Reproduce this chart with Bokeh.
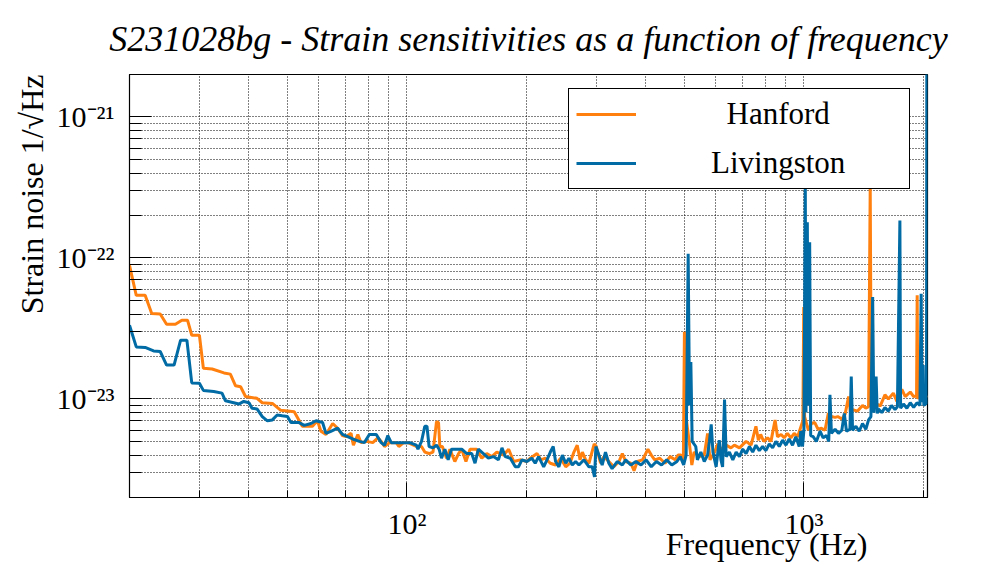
import numpy as np
from bokeh.plotting import figure
from bokeh.models import FixedTicker, CustomJSTickFormatter, Legend, LegendItem, Title
from bokeh.embed import file_html
from bokeh.resources import INLINE

# ---------------- data (ASD values given in units of 1e-23 / sqrt(Hz)) ----------------
ASD_UNIT = 1e-23

hanford_freq = [
    20.0, 20.8, 21.9, 22.75, 23.9, 24.8, 26.1, 27.1, 28.0, 28.7, 30.0, 30.7, 32.3, 34.6, 35.9,
    37.0, 38.1, 39.2, 41.9, 43.2, 45.8, 48.1, 52.0, 54.5, 57.8, 59.5, 60.7, 62.5, 65.0, 66.9,
    68.8, 70.2, 72.3, 73.3, 75.2, 76.6, 79.2, 82.0, 84.5, 86.1, 87.8, 90.4, 94.0, 95.4, 98.1,
    100.6, 105.6, 108.8, 110.9, 113.7, 116.3, 118.7, 120.1, 121.0, 122.8, 125.8, 128.3, 132.0,
    134.9, 137.4, 140.8, 144.2, 149.8, 154.3, 158.8, 163.5, 168.4, 175.2, 180.4, 185.7, 192.9,
    200.5, 204.5, 212.6, 217.4, 223.1, 229.7, 236.8, 243.8, 251.2, 257.4, 263.4, 268.5, 272.9,
    276.6, 281.9, 287.4, 296.3, 299.9, 307.4, 313.3, 322.5, 332.1, 342.1, 348.8, 355.6, 366.3,
    373.3, 380.4, 392.1, 404.6, 412.6, 420.8, 433.6, 446.7, 460.1, 474.0, 482.0, 490.0, 497.0,
    500.0, 503.0, 514.0, 522.0, 529.0, 545.0, 561.0, 572.0, 580.0, 596.0, 607.0, 618.0, 637.0,
    655.0, 668.0, 688.0, 715.0, 736.0, 757.0, 768.0, 778.0, 792.0, 810.0, 826.0, 846.0, 858.0,
    876.0, 892.0, 909.0, 927.0, 945.0, 964.0, 980.0, 994.0, 999.0, 1004.0, 1026.0, 1045.0,
    1065.0, 1085.0, 1107.0, 1130.0, 1152.0, 1173.0, 1198.0, 1217.0, 1246.0, 1270.0, 1296.0,
    1310.0, 1326.0, 1365.0, 1405.0, 1432.0, 1455.0, 1469.0, 1478.0, 1500.0, 1527.0, 1556.0,
    1600.0, 1632.0, 1680.0, 1715.0, 1765.0, 1800.0, 1853.0, 1890.0, 1922.0, 1929.0, 1936.0,
    1962.0, 2016.0, 2045.0,
]
hanford_asd = [
    8.85, 5.43, 5.43, 4.03, 4.00, 3.39, 3.39, 3.62, 3.62, 2.83, 2.83, 1.65, 1.63, 1.53, 1.50,
    1.24, 1.22, 1.04, 1.01, 0.94, 0.93, 0.83, 0.81, 0.64, 0.64, 0.70, 0.59, 0.56, 0.67, 0.62,
    0.55, 0.54, 0.57, 0.47, 0.56, 0.49, 0.50, 0.49, 0.53, 0.50, 0.46, 0.49, 0.49, 0.46, 0.49,
    0.49, 0.46, 0.46, 0.42, 0.41, 0.42, 0.69, 0.68, 0.46, 0.46, 0.38, 0.44, 0.36,
    0.41, 0.44, 0.36, 0.44, 0.44, 0.38, 0.41, 0.39, 0.42, 0.40, 0.44, 0.36, 0.37,
    0.36, 0.38, 0.41, 0.37, 0.38, 0.35, 0.34, 0.38, 0.33, 0.35, 0.42, 0.47, 0.37,
    0.42, 0.37, 0.35, 0.48, 0.46, 0.35, 0.39, 0.36, 0.33, 0.36, 0.41, 0.36, 0.35,
    0.31, 0.36, 0.37, 0.44, 0.40, 0.37, 0.38, 0.35, 0.39, 0.37, 0.40, 0.40, 0.37,
    2.99, 0.80, 0.50, 0.34, 0.42, 0.39, 0.40, 0.57, 0.37, 0.42, 0.48, 0.44, 0.47,
    0.45, 0.47, 0.45, 0.50, 0.47, 0.64, 0.51, 0.56, 0.50, 0.53, 0.50, 0.71, 0.54,
    0.56, 0.53, 0.57, 0.53, 0.57, 0.54, 0.62, 0.70, 4.49, 0.75, 0.60, 0.67,
    0.68, 0.61, 0.62, 0.60, 0.79, 0.75, 0.74, 0.75, 0.72, 0.78, 1.04,
    0.80, 0.84, 0.82, 0.90, 0.86, 0.88, 32.0, 0.95, 0.88, 0.92, 0.89,
    1.07, 1.00, 1.10, 0.96, 1.17, 1.04, 1.12, 1.04, 1.05, 5.43, 1.00,
    1.09, 1.07, 1.02,
]

livingston_freq = [
    20.0, 20.8, 21.9, 23.0, 23.9, 24.8, 25.9, 26.9, 27.9, 28.7, 30.0, 30.7, 32.6, 34.2, 34.9,
    36.6, 37.7, 38.8, 40.0, 40.7, 41.9, 43.2, 44.5, 45.8, 47.1, 48.5, 50.0, 51.0, 53.5, 55.1,
    57.3, 59.0, 61.3, 62.5, 64.3, 66.9, 68.8, 73.0, 75.9, 78.1, 80.4, 83.7, 86.1, 87.8, 89.5,
    91.3, 94.9, 98.7, 101.6, 105.6, 106.6, 108.8, 110.9, 112.3, 113.7, 116.3, 118.7, 120.5,
    122.2, 124.6, 127.0, 129.5, 133.4, 137.4, 141.4, 145.6, 148.4, 151.3, 155.8, 160.4, 165.1,
    170.0, 173.5, 176.9, 182.1, 187.5, 191.0, 194.8, 200.5, 206.3, 210.4, 214.6, 221.0, 225.3,
    229.7, 233.6, 236.8, 241.4, 246.3, 251.2, 255.9, 260.9, 266.0, 271.2, 279.2, 287.4, 292.9,
    296.8, 299.2, 304.4, 310.3, 316.3, 322.5, 328.7, 338.6, 348.8, 355.6, 366.3, 377.4, 388.7,
    400.5, 412.6, 425.0, 437.9, 451.1, 464.7, 478.8, 488.2, 497.8, 505.0, 511.0, 515.0, 519.0,
    523.0, 534.0, 539.0, 550.0, 561.0, 572.0, 578.0, 584.0, 590.0, 601.0, 612.0, 618.0, 624.0,
    631.0, 637.0, 649.0, 662.0, 675.0, 688.0, 701.0, 715.0, 729.0, 743.0, 757.0, 772.0, 787.0,
    802.0, 818.0, 834.0, 850.0, 867.0, 884.0, 901.0, 918.0, 936.0, 954.0, 973.0, 982.0, 992.0,
    1000.0, 1008.0, 1012.0, 1020.0, 1026.0, 1034.0, 1040.0, 1055.0, 1075.0, 1098.0, 1118.0,
    1140.0, 1155.0, 1163.0, 1173.0, 1198.0, 1222.0, 1246.0, 1264.0, 1280.0, 1306.0, 1316.0,
    1326.0, 1352.0, 1378.0, 1405.0, 1432.0, 1455.0, 1475.0, 1490.0, 1500.0, 1520.0, 1530.0,
    1541.0, 1571.0, 1600.0, 1632.0, 1663.0, 1696.0, 1720.0, 1745.0, 1752.0, 1782.0, 1817.0,
    1853.0, 1890.0, 1926.0, 1960.0, 1974.0, 1985.0, 1997.0, 2005.0, 2036.0, 2040.0,
]
livingston_asd = [
    3.33, 2.34, 2.32, 2.19, 2.17, 1.74, 1.74, 2.61, 2.61, 1.30, 1.29, 1.15, 1.13, 1.10, 0.97,
    0.94, 0.92, 0.96, 0.94, 0.86, 0.85, 0.75, 0.70, 0.71, 0.77, 0.76, 0.75, 0.68, 0.68, 0.65,
    0.67, 0.70, 0.68, 0.57, 0.59, 0.62, 0.56, 0.52, 0.50, 0.49, 0.56, 0.56, 0.49, 0.47, 0.55,
    0.49, 0.49, 0.49, 0.49, 0.47, 0.44, 0.50, 0.64, 0.64, 0.46, 0.45, 0.47, 0.44,
    0.38, 0.44, 0.37, 0.44, 0.44, 0.44, 0.41, 0.41, 0.35, 0.44, 0.41, 0.38, 0.39,
    0.37, 0.45, 0.39, 0.38, 0.33, 0.33, 0.37, 0.36, 0.38, 0.35, 0.39, 0.33, 0.37,
    0.42, 0.46, 0.36, 0.33, 0.40, 0.35, 0.38, 0.34, 0.36, 0.34, 0.37, 0.33, 0.33,
    0.28, 0.46, 0.40, 0.34, 0.42, 0.35, 0.32, 0.36, 0.34, 0.37, 0.34, 0.36, 0.34,
    0.37, 0.33, 0.36, 0.34, 0.37, 0.34, 0.36, 0.39, 0.34, 0.40, 10.7, 0.90, 1.83,
    0.50, 0.46, 0.37, 0.42, 0.36, 0.40, 0.50, 0.66, 0.42, 0.33, 0.51, 0.37, 0.33,
    0.99, 0.39, 0.42, 0.37, 0.42, 0.39, 0.44, 0.41, 0.46, 0.42, 0.47, 0.43, 0.46,
    0.43, 0.48, 0.45, 0.50, 0.46, 0.51, 0.47, 0.52, 0.47, 0.54, 0.46, 0.59, 0.46,
    0.60, 35.0, 0.80, 17.9, 0.90, 12.9, 0.55, 0.54, 0.50, 0.59, 0.53,
    0.55, 0.50, 1.07, 0.57, 0.61, 0.57, 0.60, 0.79, 0.59, 0.61, 1.44,
    0.60, 0.64, 0.59, 0.67, 0.61, 0.71, 0.75, 5.28, 0.80, 1.44, 0.79,
    0.85, 0.80, 0.87, 0.82, 0.90, 0.84, 0.88, 18.4, 0.86, 0.92, 0.86,
    0.94, 0.87, 0.94, 0.90, 5.58, 0.95, 1.74, 0.90, 0.93, 300.0,
]

x_major_ticks = [100, 1000]
x_major_labels = ["10\u00b2", "10\u00b3"]
x_minor_ticks = [20, 30, 40, 50, 60, 70, 80, 90, 200, 300, 400, 500, 600, 700, 800, 900, 2000]

y_major_ticks = [1e-23, 1e-22, 1e-21]
y_major_labels = ["10\u207b\u00b2\u00b3", "10\u207b\u00b2\u00b2", "10\u207b\u00b2\u00b9"]
y_minor_ticks = [2e-24, 3e-24, 4e-24, 5e-24, 6e-24, 7e-24, 8e-24, 9e-24,
                 2e-23, 3e-23, 4e-23, 5e-23, 6e-23, 7e-23, 8e-23, 9e-23,
                 2e-22, 3e-22, 4e-22, 5e-22, 6e-22, 7e-22, 8e-22, 9e-22, 2e-21]

title_text = "S231028bg - Strain sensitivities as a function of frequency"
x_title = "Frequency (Hz)"
y_title = "Strain noise 1/\u221aHz"
series_names = ["Hanford", "Livingston"]
series_colors = ["#FF800E", "#006BA4"]

FONT = "Liberation Serif"

h_strain = np.array(hanford_asd) * ASD_UNIT
l_strain = np.array(livingston_asd) * ASD_UNIT

# ---------------- figure ----------------
p = figure(width=980, height=564, x_axis_type="log", y_axis_type="log",
           x_range=(20, 2048), y_range=(2e-24, 2e-21),
           output_backend="svg", toolbar_location=None,
           min_border_left=129, min_border_right=53, min_border_top=74, min_border_bottom=67)
p.background_fill_color = "white"
p.border_fill_color = "white"
p.outline_line_color = "black"
p.outline_line_width = 1.2

p.title.text = title_text
p.title.align = "center"
p.title.text_font = FONT
p.title.text_font_style = "italic"
p.title.text_font_size = "36px"
p.title.text_color = "black"
p.title.standoff = 32

rh = p.line(hanford_freq, h_strain, line_color=series_colors[0], line_width=3)
rl = p.line(livingston_freq, l_strain, line_color=series_colors[1], line_width=3)

fmt_code = """
for (let i = 0; i < vals.length; i++) {
  if (Math.abs(Math.log10(tick) - Math.log10(vals[i])) < 1e-6) { return labs[i]; }
}
return "";
"""

xt = FixedTicker(ticks=x_major_ticks, minor_ticks=x_minor_ticks)
yt = FixedTicker(ticks=y_major_ticks, minor_ticks=y_minor_ticks)

xa = p.xaxis[0]
xa.ticker = xt
xa.formatter = CustomJSTickFormatter(args=dict(vals=x_major_ticks, labs=x_major_labels), code=fmt_code)
xa.major_label_text_font = FONT
xa.major_label_text_font_size = "30px"
xa.major_label_text_color = "black"
xa.major_tick_in = 15
xa.major_tick_out = 0
xa.minor_tick_in = 7
xa.minor_tick_out = 0
xa.major_label_standoff = 9
xa.axis_line_color = "black"
xa.major_tick_line_color = "black"
xa.minor_tick_line_color = "black"

ya = p.yaxis[0]
ya.ticker = yt
ya.formatter = CustomJSTickFormatter(args=dict(vals=y_major_ticks, labs=y_major_labels), code=fmt_code)
ya.major_label_text_font = FONT
ya.major_label_text_font_size = "30px"
ya.major_label_text_color = "black"
ya.major_tick_in = 22
ya.major_tick_out = 0
ya.minor_tick_in = 12
ya.minor_tick_out = 0
ya.major_label_standoff = 15
ya.axis_line_color = "black"
ya.major_tick_line_color = "black"
ya.minor_tick_line_color = "black"

# axis titles, right/top aligned as in the original
p.add_layout(Title(text=x_title, align="right", offset=60, vertical_align="middle",
                   standoff=-36, text_font=FONT, text_font_style="normal",
                   text_font_size="32px", text_color="black"), "below")
p.add_layout(Title(text=y_title, align="right", offset=0, vertical_align="bottom",
                   standoff=8, text_font=FONT, text_font_style="normal",
                   text_font_size="32px", text_color="black"), "left")

for g, t in ((p.xgrid[0], xt), (p.ygrid[0], yt)):
    g.ticker = t
    g.grid_line_color = "black"
    g.grid_line_dash = "1 2"
    g.grid_line_width = 1
    g.grid_line_alpha = 1.0
    g.minor_grid_line_color = "black"
    g.minor_grid_line_dash = "1 2"
    g.minor_grid_line_width = 1
    g.minor_grid_line_alpha = 1.0

legend = Legend(items=[LegendItem(label="\u00a0\u00a0" + series_names[0], renderers=[rh]),
                       LegendItem(label=series_names[1], renderers=[rl])],
                location=(439, 308),
                label_text_font=FONT, label_text_font_size="31px", label_text_color="black",
                glyph_width=60, glyph_height=36, label_height=36, label_width=191,
                label_standoff=75, padding=7, spacing=13,
                border_line_color="black", border_line_width=1, border_line_alpha=1.0,
                background_fill_color="white", background_fill_alpha=1.0)
p.add_layout(legend)

open("out.html", "w").write(file_html(p, INLINE))
